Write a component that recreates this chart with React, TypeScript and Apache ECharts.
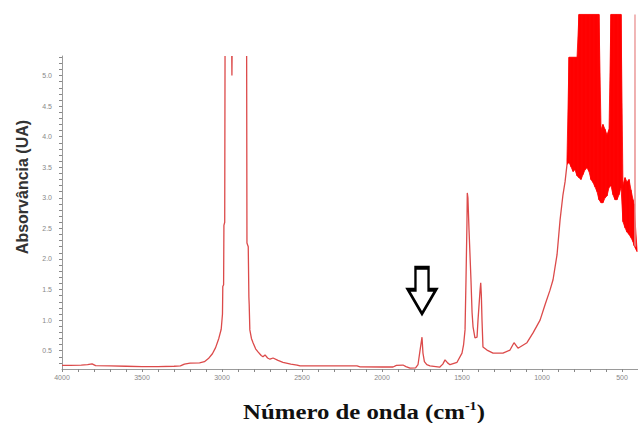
import React, { useEffect, useRef } from "react";
import * as echarts from "echarts";

// Main spectrum (wavenumber cm-1, absorbance UA); null = pen lifted (off scale)
const mainWave = [
  4000, 3950, 3880, 3840, 3812, 3790, 3700, 3600, 3500, 3400, 3300, 3260, 3235, 3200, 3140,
  3110, 3085, 3060, 3040, 3020, 3005, 2997, 2995, 2990, 2988, 2983, 2981,
  2960,
  2939, 2938, 2937,
  2900,
  2846, 2844, 2836, 2832, 2830, 2826, 2816, 2806, 2790, 2775, 2755, 2744, 2731, 2715, 2700,
  2681, 2650, 2619, 2570, 2531, 2512, 2300, 2156, 2137, 2000, 1931, 1910, 1869, 1850, 1825,
  1790, 1775, 1762, 1750, 1744, 1735, 1720, 1700, 1640, 1620, 1606, 1590, 1575, 1531, 1500,
  1490, 1481, 1475, 1469, 1467, 1463, 1456, 1444, 1437, 1431, 1419, 1406, 1400, 1387, 1383,
  1379, 1375, 1369, 1344, 1306, 1244, 1200, 1175, 1150, 1094, 1056, 1012, 981, 950, 931, 906,
  887, 869, 856, 844,
];
const mainAbs = [
  0.26, 0.26, 0.265, 0.27, 0.285, 0.255, 0.25, 0.245, 0.24, 0.24, 0.245, 0.25, 0.28, 0.295, 0.3,
  0.32, 0.37, 0.45, 0.55, 0.7, 0.85, 1.1, 1.55, 1.58, 2.55, 2.6, 5.32,
  null,
  5.32, 5.0, 5.32,
  null,
  5.32, 2.26, 2.2, 1.38, 1.25, 0.84, 0.7, 0.63, 0.53, 0.48, 0.42, 0.4, 0.43, 0.38, 0.36,
  0.38, 0.34, 0.31, 0.28, 0.265, 0.25, 0.25, 0.25, 0.235, 0.233, 0.233, 0.26, 0.265, 0.24, 0.215,
  0.22, 0.27, 0.51, 0.72, 0.46, 0.32, 0.27, 0.25, 0.23, 0.28, 0.35, 0.3, 0.27, 0.31, 0.46,
  0.6, 0.84, 1.66, 2.59, 3.08, 3.0, 2.47, 1.66, 1.12, 0.89, 0.71, 0.72, 1.0, 1.49, 1.61,
  1.4, 1.0, 0.56, 0.51, 0.46, 0.46, 0.51, 0.63, 0.54, 0.63, 0.79, 1.0, 1.25, 1.49, 1.66, 2.07,
  2.64, 3.05, 3.26, 3.54,
];

// Saturated, noisy fingerprint region: lower and upper envelope of the red band
const noiseWave = [
  844, 831, 819, 806, 794, 781, 769, 756, 744, 731, 719, 706, 694, 681, 669, 656, 644, 631,
  619, 606, 594, 581, 569, 556, 544, 531, 519, 506, 494, 481, 469, 456, 444, 431, 425, 406,
];
const noiseLow = [
  3.54, 3.58, 3.51, 3.43, 3.46, 3.36, 3.33, 3.3, 3.38, 3.46, 3.49, 3.43, 3.3, 3.25, 3.18, 3.1, 2.97, 2.92,
  2.92, 3.0, 3.03, 3.17, 3.2, 3.05, 2.97, 2.97, 3.05, 3.17, 2.61, 2.51, 2.44, 2.4, 2.35, 2.28, 2.22, 2.12,
];
const noiseHigh = [
  3.62, 5.3, 5.3, 5.3, 5.3, 5.3, 6.0, 6.0, 6.0, 6.0, 6.0, 6.0, 6.0, 6.0, 6.0, 6.0, 6.0, 4.12,
  4.2, 4.12, 4.03, 4.12, 6.0, 6.0, 6.0, 6.0, 6.0, 6.0, 3.21, 3.33, 3.26, 3.3, 3.13, 2.97, 2.9, 2.15,
];
const edgeSpikeWave = [420, 418.8, 417.5];
const edgeSpikeAbs = [2.22, 6.0, 2.2];

const xTickLabels = [4000, 3500, 3000, 2500, 2000, 1500, 1000, 500];
const yTickLabels = [0.5, 1.0, 1.5, 2.0, 2.5, 3.0, 3.5, 4.0, 4.5, 5.0];
const arrowAt = [1750, 1.48];

const X_MIN = 400;
const X_MAX = 4000;
const Y_MIN = 0.2;
const Y_MAX = 5.32;

export default function App() {
  const ref = useRef<HTMLDivElement>(null);

  useEffect(() => {
    const chart = echarts.init(ref.current!, null, { renderer: "svg" });

    const xMinor: number[] = [];
    for (let w = X_MAX; w >= 500; w -= 100) xMinor.push(w);
    const yMinor: number[] = [];
    for (let k = 3; k <= 53; k++) yMinor.push(k / 10);

    const mainData = mainWave.map((w, i) => [w, mainAbs[i] === null ? "-" : mainAbs[i]]);
    const bandData: number[][] = [];
    for (let i = 0; i < noiseWave.length - 1; i++) {
      bandData.push([
        noiseWave[i], noiseLow[i], noiseHigh[i],
        noiseWave[i + 1], noiseLow[i + 1], noiseHigh[i + 1],
      ]);
    }
    const spikeData = edgeSpikeWave.map((w, i) => [w, edgeSpikeAbs[i]]);

    const lineColor = "#dc4a4a";

    chart.setOption({
      animation: false,
      backgroundColor: "#ffffff",
      grid: { left: 62, right: 0, top: 56, bottom: 54 },
      xAxis: {
        type: "value",
        inverse: true,
        min: X_MIN,
        max: X_MAX,
        splitLine: { show: false },
        axisLine: { lineStyle: { color: "#9a9a9a", width: 1 } },
        axisTick: {
          show: true,
          customValues: xMinor,
          length: 3,
          lineStyle: { color: "#888" },
        },
        axisLabel: {
          customValues: xTickLabels,
          formatter: (v: number) => String(v),
          color: "#888",
          fontSize: 7,
          fontFamily: "Liberation Sans",
          margin: 5,
        },
      },
      yAxis: {
        type: "value",
        min: Y_MIN,
        max: Y_MAX,
        splitLine: { show: false },
        axisLine: { show: true, lineStyle: { color: "#9a9a9a", width: 1 } },
        axisTick: {
          show: true,
          customValues: yMinor,
          length: 3,
          lineStyle: { color: "#888" },
        },
        axisLabel: {
          customValues: yTickLabels,
          formatter: (v: number) => v.toFixed(1),
          color: "#888",
          fontSize: 7,
          fontFamily: "Liberation Sans",
          margin: 10,
        },
      },
      series: [
        {
          type: "line",
          data: mainData,
          symbol: "none",
          clip: false,
          connectNulls: false,
          lineStyle: { color: lineColor, width: 1.3 },
          z: 3,
          markPoint: {
            silent: true,
            symbol: "path://M8,0 L22,0 L22,23 L30,23 L15,48 L0,23 L8,23 Z",
            symbolSize: [28, 46],
            symbolKeepAspect: false,
            itemStyle: { color: "#ffffff", borderColor: "#000000", borderWidth: 3 },
            label: { show: false },
            data: [{ coord: arrowAt }],
          },
        },
        {
          type: "custom",
          data: bandData,
          clip: false,
          encode: { x: [0, 3], y: [1, 2, 4, 5] },
          z: 2,
          renderItem: (params: any, api: any) => {
            const a = api.coord([api.value(0), api.value(1)]);
            const b = api.coord([api.value(0), api.value(2)]);
            const c = api.coord([api.value(3), api.value(5)]);
            const d = api.coord([api.value(3), api.value(4)]);
            return {
              type: "polygon",
              shape: { points: [a, b, c, d] },
              style: { fill: "#ff0000", stroke: "#ff0000", lineWidth: 0.8 },
            };
          },
        },
        {
          type: "line",
          data: spikeData,
          symbol: "none",
          clip: false,
          lineStyle: { color: "#e88a8a", width: 1.2 },
          z: 2,
        },
      ],
      graphic: [
        {
          type: "text",
          x: 22,
          y: 187,
          rotation: Math.PI / 2,
          style: {
            text: "Absorvância (UA)",
            fontFamily: "Liberation Sans",
            fontWeight: "bold",
            fontSize: 16,
            fill: "#333333",
            textAlign: "center",
            textVerticalAlign: "middle",
          },
        },
        {
          type: "text",
          x: 364,
          y: 412,
          scaleX: 1.18,
          style: {
            text: "{t|Número de onda (cm}{s|-1}{t|)}",
            textAlign: "center",
            textVerticalAlign: "middle",
            rich: {
              t: {
                fontFamily: "Liberation Serif",
                fontWeight: "bold",
                fontSize: 21,
                lineHeight: 24,
                fill: "#111111",
              },
              s: {
                fontFamily: "Liberation Serif",
                fontWeight: "bold",
                fontSize: 12,
                lineHeight: 12,
                verticalAlign: "top",
                fill: "#111111",
              },
            },
          },
        },
      ],
    });

    return () => chart.dispose();
  }, []);

  return (
    <div
      ref={ref}
      style={{ width: 638, height: 423, position: "absolute", left: 0, top: 0 }}
    />
  );
}
